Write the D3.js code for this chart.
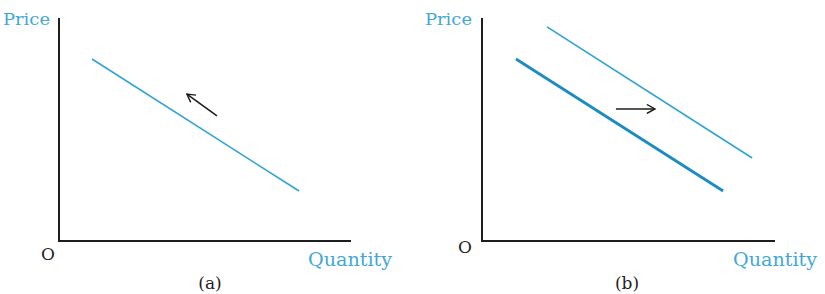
<!DOCTYPE html>
<html><head><meta charset="utf-8">
<script src="https://cdn.jsdelivr.net/npm/d3@7"></script>
<style>body{margin:0;background:#fff}svg{display:block}text{font-family:"DejaVu Serif",serif}</style>
</head><body>
<script>
// Data (price/quantity units, 0..10)
const panels = ["(a)", "(b)"];
const axisLabels = {y: "Price", x: "Quantity", origin: "O"};
// Panel (a): demand curve
const curveA = [[1.13, 8.16], [8.22, 2.24]];
const arrowA = [[5.41, 5.61], [4.38, 6.59]];
// Panel (b): original and shifted demand curve
const curveB1 = [[1.16, 8.16], [8.23, 2.24]];
const curveB2 = [[2.22, 9.60], [9.22, 3.72]];
const arrowB = [[4.57, 5.92], [5.90, 5.92]];

const W = 825, H = 294;
const svg = d3.select("body").append("svg").attr("width", W).attr("height", H);
const blue = "#2ea3d5", dark = "#1a8cc0", ink = "#1e1e1e", textBlue = "#3fa8d8";

svg.append("defs").append("marker")
  .attr("id", "arr").attr("viewBox", "0 0 10 10").attr("refX", 9).attr("refY", 5)
  .attr("markerWidth", 10).attr("markerHeight", 10).attr("markerUnits", "userSpaceOnUse")
  .attr("orient", "auto")
  .append("path").attr("d", "M1,0.5 L9,5 L1,9.5").attr("fill", "none")
  .attr("stroke", ink).attr("stroke-width", 1.4);

function panel(x0, x1, yTop, yBot, opts) {
  const x = d3.scaleLinear().domain([0, 10]).range([x0, x1]);
  const y = d3.scaleLinear().domain([0, 10]).range([yBot, yTop]);
  const g = svg.append("g");
  g.append("path").attr("d", `M${x(0)},${y(10)} L${x(0)},${y(0)} L${x(10)},${y(0)}`)
    .attr("fill", "none").attr("stroke", ink).attr("stroke-width", 2);
  const line = d3.line().x(d => x(d[0])).y(d => y(d[1]));
  opts.curves.forEach(c => g.append("path").attr("d", line(c.data))
    .attr("fill", "none").attr("stroke", c.color).attr("stroke-width", c.w));
  g.append("path").attr("d", line(opts.arrow)).attr("fill", "none")
    .attr("stroke", ink).attr("stroke-width", 1.6).attr("marker-end", "url(#arr)");
  g.append("text").text(axisLabels.y).attr("x", opts.priceX).attr("y", 25)
    .attr("fill", textBlue).attr("font-size", 17)
    .attr("textLength", 47).attr("lengthAdjust", "spacingAndGlyphs");
  g.append("text").text(axisLabels.origin).attr("x", opts.oX).attr("y", opts.oY)
    .attr("fill", ink).attr("font-size", 17);
  g.append("text").text(axisLabels.x).attr("x", opts.qX).attr("y", 266)
    .attr("fill", textBlue).attr("font-size", 18)
    .attr("textLength", 84).attr("lengthAdjust", "spacingAndGlyphs");
  g.append("text").text(opts.label).attr("x", opts.labX).attr("y", 289)
    .attr("text-anchor", "middle").attr("fill", ink).attr("font-size", 17);
}

panel(59, 351, 18, 241, {
  curves: [{data: curveA, color: blue, w: 1.6}],
  arrow: arrowA, priceX: 3, oX: 41, oY: 260, qX: 308, labX: 210, label: panels[0]
});
panel(482, 775, 18, 241, {
  curves: [{data: curveB1, color: dark, w: 2.8}, {data: curveB2, color: blue, w: 1.6}],
  arrow: arrowB, priceX: 425, oX: 458, oY: 253, qX: 733, labX: 627, label: panels[1]
});
</script>
</body></html>
